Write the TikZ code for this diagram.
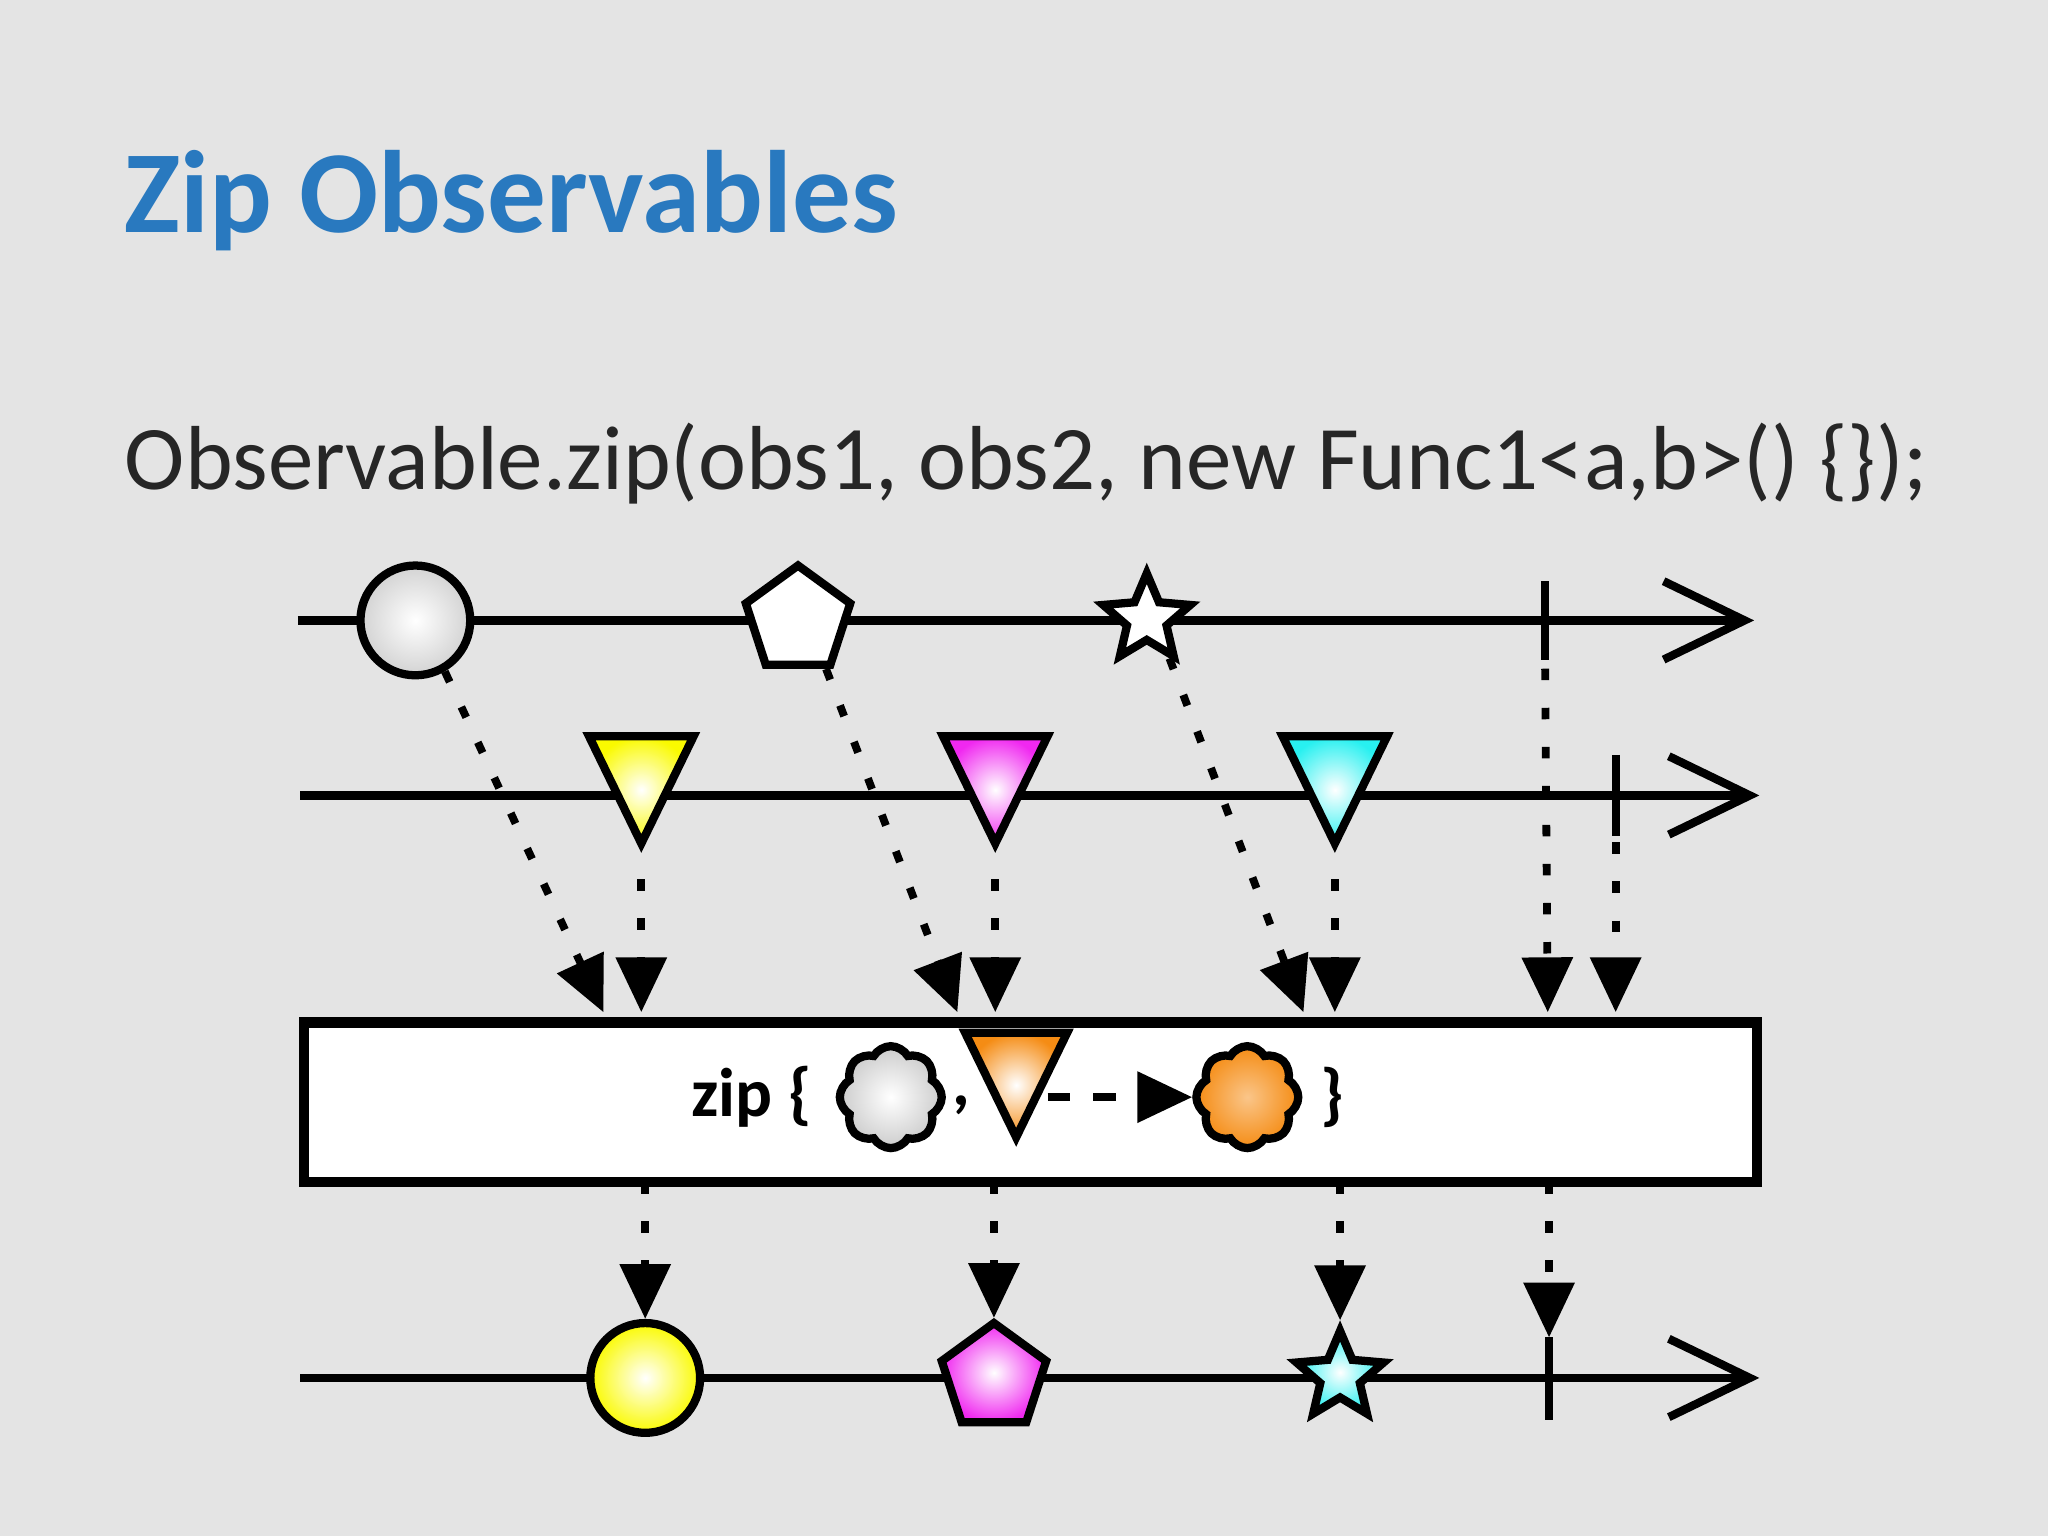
\documentclass[tikz,border=0pt]{standalone}
\usepackage{fontspec}
\setmainfont{Carlito}
\usetikzlibrary{arrows.meta,shapes.geometric,shapes.symbols}
\definecolor{bg}{RGB}{228,228,228}
\definecolor{titleblue}{RGB}{41,121,191}
\definecolor{myyellow}{RGB}{250,250,0}
\definecolor{mymag}{RGB}{240,40,240}
\definecolor{mycyan}{RGB}{40,240,240}
\definecolor{myorange}{RGB}{245,140,20}
\tikzset{
 lw/.style={line width=1.8pt},
 timeline/.style={lw,-{Straight Barb[length=0.62cm,width=0.6cm,line width=1.8pt]}},
 dotarrow/.style={line width=1.7pt,dash pattern=on 2.5pt off 6pt,-{Triangle[length=0.42cm,width=0.38cm]}},
 tick/.style={lw},
 ball/.style={circle,draw,lw,minimum size=0.84cm,inner sep=0},
 penta/.style={regular polygon,regular polygon sides=5,draw,lw,minimum size=0.84cm,inner sep=0},
 starsh/.style={star,star points=5,star point ratio=2.2,draw,lw,minimum size=0.7cm,inner sep=0},
 tri/.style={isosceles triangle,isosceles triangle apex angle=52,shape border rotate=-90,draw,lw,minimum height=0.82cm,inner sep=0,anchor=apex},
 puff/.style={cloud,cloud puffs=8,cloud puff arc=120,draw,lw,minimum width=0.78cm,minimum height=0.78cm,inner sep=0,aspect=1},
}
\begin{document}
\begin{tikzpicture}[x=0.01cm,y=-0.01cm]
\fill[bg] (0,0) rectangle (1568,1176);
\useasboundingbox (0,0) rectangle (1568,1176);
\node[anchor=base west,inner sep=0,font=\fontsize{25.5}{30}\selectfont\bfseries,text=titleblue] (title) at (95,178) {Zip Observables};
\node[anchor=base west,inner sep=0,font=\fontsize{19.8}{24}\selectfont,text=black!85] (code) at (95,375) {Observable.zip(obs1, obs2, new Func1<a,b>() \{\});};
% line 1
\coordinate (l1s) at (228,475); \coordinate (l1e) at (1343,475);
\draw[timeline] (l1s) -- (l1e);
\draw[tick] (1183,445) -- (1183,505);
\node[ball,inner color=white,outer color=gray!35] (c1) at (318,475) {};
\node[penta,fill=white] (p1) at (611,475) {};
\node[starsh,fill=white] (s1) at (878,474) {};
% line 2
\coordinate (l2s) at (230,609); \coordinate (l2e) at (1347,609);
\draw[timeline] (l2s) -- (l2e);
\draw[tick] (1237,578) -- (1237,640);
\node[tri,inner color=white,outer color=myyellow] (t1) at (491,653) {};
\node[tri,inner color=white,outer color=mymag] (t2) at (762,653) {};
\node[tri,inner color=white,outer color=mycyan] (t3) at (1022,653) {};
% box
\node[draw,line width=2.2pt,fill=white,minimum width=11.12cm,minimum height=1.22cm,anchor=north west] (box) at (229,779) {};
% arrows into box
\coordinate (a1) at (462,775); \coordinate (a2) at (491,775);
\coordinate (a3) at (733,775); \coordinate (a4) at (762,775);
\coordinate (a5) at (998,775); \coordinate (a6) at (1022,775);
\coordinate (a7) at (1185,775); \coordinate (a8) at (1237,775);
\coordinate (e1) at (1183,512); \coordinate (e2) at (1237,645);
\draw[dotarrow] (c1.-60) -- (a1);
\draw[dotarrow] (t1.apex) ++(0,20) -- (a2);
\draw[dotarrow] (p1.-60) -- (a3);
\draw[dotarrow] (t2.apex) ++(0,20) -- (a4);
\draw[dotarrow] (s1.-60) -- (a5);
\draw[dotarrow] (t3.apex) ++(0,20) -- (a6);
\draw[dotarrow] (e1) -- (a7);
\draw[dotarrow] (e2) -- (a8);
% box content
\node[font=\fontsize{15}{18}\selectfont\bfseries,anchor=east] (zip) at (634,840) {zip \{};
\node[puff,inner color=white,outer color=gray!40] (cl1) at (682,840) {};
\node[font=\fontsize{15}{18}\selectfont\bfseries] (comma) at (736,846) {,};
\node[tri,inner color=white,outer color=myorange,minimum height=0.8cm] (ot) at (778,878) {};
\node[puff,inner color=myorange!50,outer color=myorange] (cl2) at (955,840) {};
\node[font=\fontsize{15}{18}\selectfont\bfseries] (rb) at (1020,840) {\}};
\draw[line width=1.7pt,dash pattern=on 5pt off 5pt,-{Triangle[length=0.42cm,width=0.38cm]}] (802,840) -- (cl2.west);
% arrows out of box
\coordinate (b1) at (494,905); \coordinate (b2) at (761,905); \coordinate (b3) at (1026,905); \coordinate (b4) at (1186,905);
\coordinate (d4) at (1186,1024);
% line 3
\coordinate (l3s) at (230,1055); \coordinate (l3e) at (1347,1055);
\draw[timeline] (l3s) -- (l3e);
\draw[tick] (1186,1024) -- (1186,1087);
\node[ball,inner color=white,outer color=myyellow] (c3) at (494,1055) {};
\node[penta,inner color=white,outer color=mymag] (p3) at (761,1055) {};
\node[starsh,inner color=white,outer color=mycyan] (s3) at (1026,1054) {};
\draw[dotarrow] (b1) -- (c3.north);
\draw[dotarrow] (b2) -- (p3.north);
\draw[dotarrow] (b3) -- (s3.north);
\draw[dotarrow] (b4) -- (d4);
\end{tikzpicture}
\end{document}
